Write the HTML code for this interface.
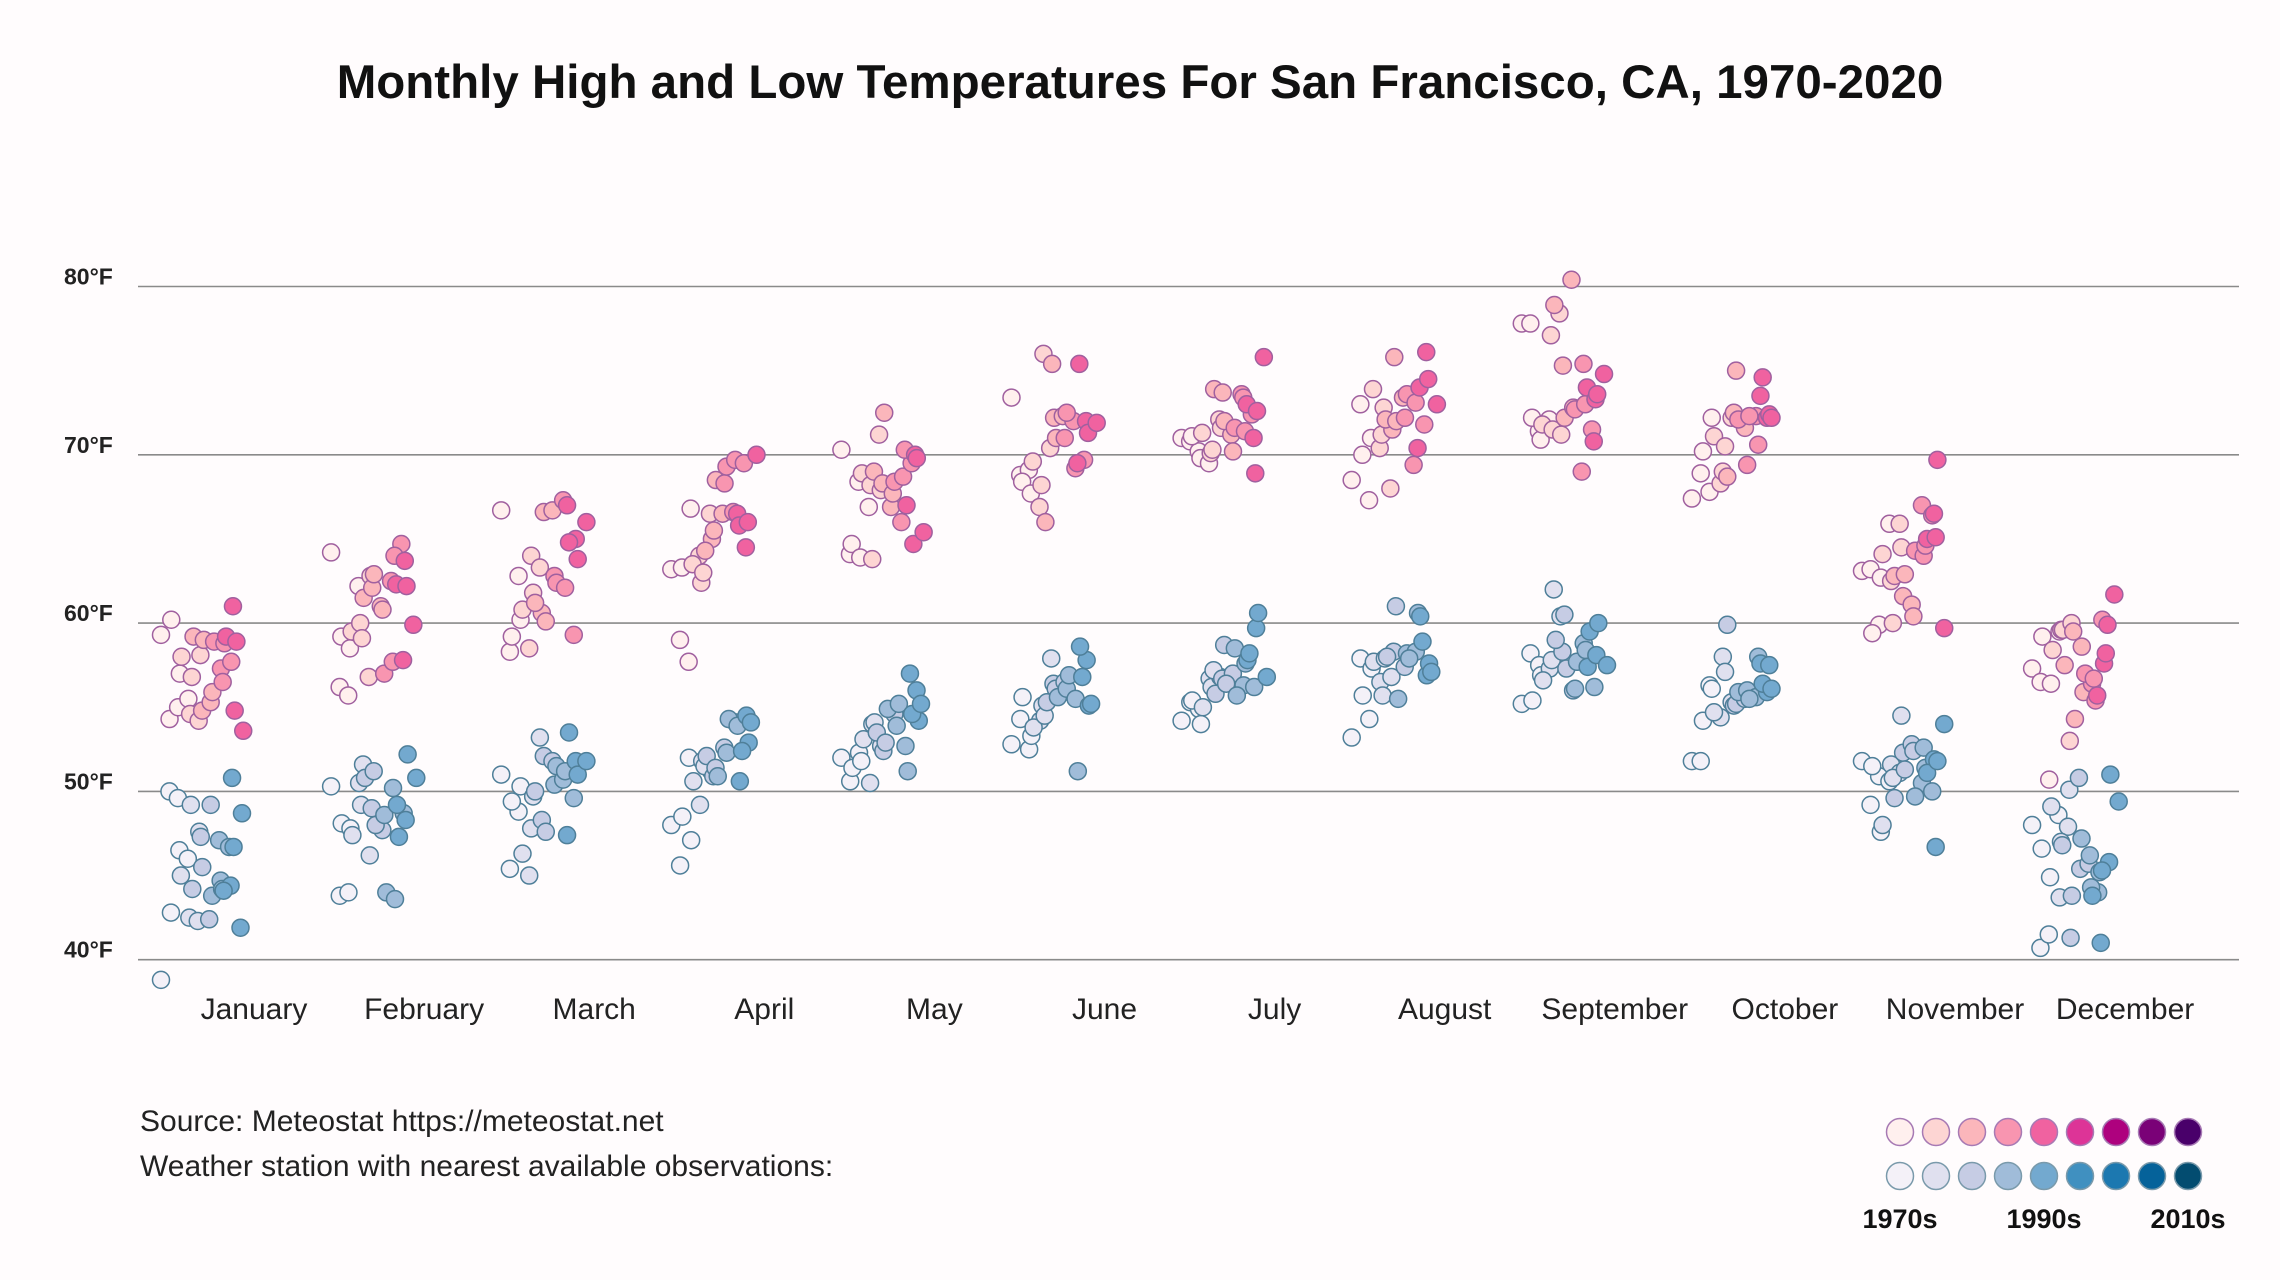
<!DOCTYPE html>
<html><head><meta charset="utf-8"><style>
html,body{margin:0;padding:0;background:#fffcfd;}
svg{display:block;font-family:"Liberation Sans",sans-serif;}
</style></head><body>
<svg id="chart" width="2280" height="1280" viewBox="0 0 2280 1280">
<rect width="2280" height="1280" fill="#fffcfd"/>
<text x="1140" y="98" text-anchor="middle" font-size="47.5" font-weight="bold" fill="#111">Monthly High and Low Temperatures For San Francisco, CA, 1970-2020</text>
<g id="grid"></g>
<g id="dots"></g>
<g id="xlabels"></g>
<text x="140" y="1131" font-size="30" fill="#222">Source: Meteostat https://meteostat.net</text>
<text x="140" y="1176" font-size="30" fill="#222">Weather station with nearest available observations:</text>
<g id="legend"></g>
</svg>
<script>
const months=["January","February","March","April","May","June","July","August","September","October","November","December"];
const yTicks=[40,50,60,70,80];
const highs=[
[59.3,54.3,55,60.2,57,55.5,58,54.6,54.2,56.8,58.1,59.2,54.8,55.3,59,55.9,57.3,58.9,56.5,57.7,58.8,61,59.2,54.8,53.6,58.9],
[64.2,56.2,55.7,59.2,58.5,62.2,59.5,60,56.8,59.1,62.8,61.5,62.1,61,62.9,60.8,62.5,57,57.7,64.7,64,57.8,62.3,63.7,59.9,62.2],
[66.7,58.3,62.8,59.2,60.2,58.5,60.8,64,63.3,61.8,60.6,61.2,66.6,66.7,60.1,62.8,67.3,62.4,62.1,59.3,67,65,64.8,63.8,66],
[63.2,59,57.7,63.3,66.8,64,63.5,62.4,66.5,63,65,64.3,65.5,66.5,68.5,68.3,66.6,69.3,69.7,69.5,66.5,64.5,65.8,66,70],
[70.3,64.1,68.4,64.7,63.9,66.9,68.9,68.2,71.2,63.8,67.9,69,68.3,66.9,72.5,67.7,66,68.4,68.7,69.5,70.3,64.7,67,70,65.4,69.8],
[73.4,68.8,69.1,68.4,67.7,66.9,69.6,68.2,70.4,76,75.4,66,72.2,72.3,71,71,72,72.5,69.2,69.7,69.5,72,75.4,71.3,71.9],
[71,70.8,70.2,71.1,69.8,69.5,71.3,70.1,72.1,70.3,71.6,73.9,73.7,71.2,72,70.2,73.6,71.6,73.4,72.4,71.4,71,73,68.9,75.8,72.6],
[68.5,73,67.3,70,71,70.4,73.9,71.2,68,72.8,71.5,72.1,75.8,73.4,72,72.2,69.4,73.6,73.1,71.8,70.4,76.1,74,74.5,73],
[77.8,77.8,71.4,72.2,70.9,72.1,71.8,77.1,78.4,71.5,71.2,78.9,75.3,80.4,72.2,72.8,69,72.7,75.4,71.5,73,70.8,74,73.3,74.8,73.6],
[67.4,68.9,67.8,70.2,72.2,68.3,71.1,69,72.2,70.5,72.5,68.7,75,71.6,72.1,69.4,72.3,72.3,70.6,72.2,73.5,72.4,74.6,72.2],
[63.1,63.2,59.9,59.4,62.7,65.9,64.1,62.5,65.9,60,64.5,62.8,61.6,61.1,62.9,60.4,67,64.3,64,66.4,64.6,66.5,65,65.1,59.7,69.7],
[57.3,56.5,50.7,59.2,56.4,59.5,58.4,59.6,53,59.6,60,57.5,59.5,58.6,54.3,55.9,56.4,57,56.7,60.2,55.4,57.6,55.7,58.2,61.7,59.9]
];
const lows=[
[38.8,50,49.6,42.8,46.5,46,45,42.5,42.3,49.2,47.6,44.2,47.3,42.4,45.5,49.2,47.1,43.8,44.7,46.7,44.2,44.4,44.1,50.8,41.9,46.7,48.7],
[50.3,43.8,44,48.1,47.8,50.5,47.4,49.2,46.2,51.6,49,50.8,51.2,47.7,48,48.6,50.2,44,43.6,48.7,49.2,48.3,47.3,52.2,50.8],
[51,45.4,48.8,49.4,50.3,45,46.3,47.8,53.2,49.7,48.3,50,52.1,51.8,47.6,50.4,50.7,51.5,51.2,49.6,47.4,51.8,53.5,51,51.8],
[48,45.6,52,48.5,47.1,49.2,50.6,51.8,51.2,51.5,50.9,52.1,51.4,52.6,50.9,52.3,54.1,54.3,53.9,54.5,50.6,52.9,52.4,54.1],
[52,50.6,52.3,51.4,51.8,50.5,53.1,54,52.7,54.1,52.4,53.5,52.9,54.6,54.9,53.9,52.7,55.2,51.2,56,57,54.2,54.6,55.2],
[52.8,54.3,52.5,55.6,53.3,54.2,53.8,55.1,57.9,54.5,56.4,55.3,56.1,56.5,55.6,56.1,55.5,56.9,51.2,57.8,58.6,55.1,56.8,55.2],
[54.2,55.3,54.9,55.4,54,56.7,55,56.2,56.8,57.2,56.7,55.8,58.7,57,56.4,58.5,56.3,55.7,57.6,56.2,57.8,59.7,58.2,60.6,56.8],
[53.2,57.9,54.3,55.7,57.3,56.5,57.7,55.7,56.8,57.9,58.3,58,61,57.4,55.5,58.2,58.3,57.9,60.6,56.9,60.4,57.6,58.9,57.1],
[55.2,58.2,57.5,55.4,56.9,57.3,56.6,57.8,60.4,62,58.3,59,60.5,56,57.3,56.1,58.8,57.7,58.4,56.2,57.4,58.1,59.5,60,57.5],
[51.8,51.8,56.3,54.2,56.1,54.4,54.7,58,55.3,57.1,55.1,59.9,55.2,55.5,55.9,56,55.6,55.5,58,55.9,57.6,57.5,56.4,56.1],
[51.8,49.2,50.9,51.5,47.6,50.6,48,51.6,51.1,50.8,54.5,49.6,52.3,52.8,51.3,52.4,50.5,49.7,52.6,50,51.4,51.9,51.1,46.7,54,51.8],
[48,40.7,41.5,46.6,44.9,48.6,49.1,43.7,47.9,47,50.1,46.8,41.3,50.8,43.8,45.4,45.7,47.2,46.2,44,44.3,45.2,43.8,41,45.8,45.3,51,49.4]
];
const legendLabels=["1970s","1990s","2010s"];
const pinks=["#fff0ee","#fdd5d3","#fbb6bb","#f895b0","#f062a0","#dd3497","#ae017e","#7a0177","#49006a"];
const blues=["#f4f1f8","#e0e0ef","#c6cce4","#a0bcd9","#73a9cf","#4090c0","#1c78b0","#05629a","#034c70"];
const NS="http://www.w3.org/2000/svg";
function yScale(t){return 286.5+(80-t)*16.83;}
function xCenter(m){return 254+m*170.1;}
function mk(tag,attrs,parent){const e=document.createElementNS(NS,tag);for(const k in attrs)e.setAttribute(k,attrs[k]);parent.appendChild(e);return e;}
const grid=document.getElementById('grid');
yTicks.forEach(t=>{
  const l=mk('line',{x1:138,x2:2239,y1:yScale(t),y2:yScale(t),stroke:'#8a8a8a','stroke-width':1.6},grid);
  
  
  const tx=mk('text',{x:64,y:yScale(t)-2,'font-size':23,'font-weight':'bold',fill:'#222'},grid);
  tx.textContent=t+"°F";
  
  
});
const xl=document.getElementById('xlabels');
months.forEach((m,i)=>{
  const tx=mk('text',{x:xCenter(i),y:1019,'text-anchor':'middle','font-size':30,fill:'#222'},xl);
  tx.textContent=m;
  
  
});
const dots=document.getElementById('dots');
function drawSeries(arr,pal,stroke,name){
  arr.forEach((vals,m)=>{
    const n=vals.length;
    vals.forEach((v,i)=>{
      const t=i/(n-1);
      const x=xCenter(m)-86+t*74+(((i*37)%11)-5)*1.4;
      const c=mk('circle',{cx:x,cy:yScale(v),r:8.5,fill:pal[Math.min(4,Math.floor(t*4.99))],stroke:stroke,'stroke-width':1.5},dots);
      
      
    });
  });
}
drawSeries(lows,blues,'#4f7f99','low-temp-dot');
drawSeries(highs,pinks,'#a0609f','high-temp-dot');
const lg=document.getElementById('legend');
pinks.forEach((c,i)=>{
  const a=mk('circle',{cx:1900+i*36,cy:1132,r:13.5,fill:c,stroke:'#a77ab4','stroke-width':1.5},lg);
  
  
});
blues.forEach((c,i)=>{
  const a=mk('circle',{cx:1900+i*36,cy:1176,r:13.5,fill:c,stroke:'#7a9aab','stroke-width':1.5},lg);
  
  
});
legendLabels.forEach((s,i)=>{
  const tx=mk('text',{x:1900+i*144,y:1228,'text-anchor':'middle','font-size':27,'font-weight':'bold',fill:'#111'},lg);
  tx.textContent=s;
  
  
});
</script>
</body></html>
